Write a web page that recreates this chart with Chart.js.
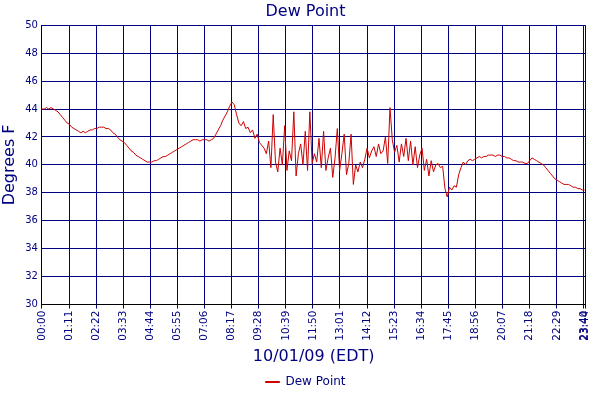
<!DOCTYPE html>
<html><head><meta charset="utf-8">
<script src="https://cdn.jsdelivr.net/npm/chart.js@4"></script>
<style>html,body{margin:0;padding:0;background:#fff}#w{width:600px;height:400px}</style>
</head><body><div id="w"><canvas id="c"></canvas></div>
<script>
const stepMinutes = 6;
const dewPoint = [
44.0,44.0,44.1,44.0,44.1,44.0,43.9,43.8,43.6,43.4,
43.2,43.0,42.9,42.7,42.6,42.5,42.4,42.3,42.4,42.3,
42.4,42.5,42.5,42.6,42.6,42.7,42.7,42.7,42.6,42.6,
42.5,42.3,42.2,42.0,41.8,41.7,41.6,41.4,41.2,41.0,
40.9,40.7,40.6,40.5,40.4,40.3,40.2,40.2,40.2,40.3,
40.3,40.4,40.5,40.6,40.6,40.7,40.8,40.9,41.0,41.1,
41.2,41.3,41.4,41.5,41.6,41.7,41.8,41.8,41.8,41.7,
41.8,41.8,41.8,41.7,41.8,41.9,42.2,42.5,42.8,43.2,
43.5,43.8,44.2,44.5,44.3,43.6,43.0,42.8,43.1,42.6,
42.7,42.3,42.5,41.9,42.2,41.6,41.4,41.2,40.8,41.7,
39.8,43.6,40.2,39.5,41.2,40.0,42.8,39.6,41.0,40.3,
43.8,39.2,40.8,41.5,40.0,42.4,39.6,43.8,40.1,40.8,
40.2,41.9,39.8,42.4,39.6,40.5,41.2,39.1,40.5,42.6,
39.6,40.8,42.2,39.3,40.1,42.2,38.6,40.0,39.5,40.2,
39.8,40.4,41.2,40.5,41.0,41.3,40.6,41.5,40.8,41.0,
42.0,40.1,44.1,41.8,40.9,41.4,40.2,41.5,40.6,41.9,
40.3,41.7,40.0,41.3,39.8,40.7,41.2,39.6,40.4,39.2,
40.3,39.5,40.0,40.1,39.8,39.9,38.3,37.7,38.4,38.2,
38.5,38.4,39.3,39.8,40.2,40.0,40.3,40.4,40.3,40.4,
40.5,40.6,40.5,40.6,40.6,40.7,40.7,40.7,40.6,40.7,
40.7,40.6,40.6,40.5,40.5,40.4,40.3,40.3,40.2,40.2,
40.2,40.1,40.1,40.3,40.5,40.4,40.3,40.2,40.1,40.0,
39.8,39.6,39.4,39.2,39.0,38.9,38.8,38.7,38.6,38.6,
38.6,38.5,38.4,38.4,38.3,38.3,38.2,38.2
];
const xTickMinutes = [0,71,142,213,284,355,426,497,568,639,710,781,852,923,994,1065,1136,1207,1278,1349,1420,1424];
const xMax = 1424;
const points = dewPoint.map((v,i)=>({x:i*stepMinutes,y:v}));
const navy = '#000080';
const fmt = m => String(Math.floor(m/60)).padStart(2,'0')+':'+String(m%60).padStart(2,'0');
new Chart(document.getElementById('c'),{
  type:'line',
  data:{datasets:[{label:'Dew Point',data:points,borderColor:'#cc0000',backgroundColor:'#cc0000',borderWidth:1,pointRadius:0,tension:0}]},
  options:{
    responsive:true,maintainAspectRatio:false,animation:false,devicePixelRatio:1,
    layout:{padding:{top:0,right:-11,left:0,bottom:2}},
    plugins:{
      title:{display:true,text:'Dew Point',color:navy,font:{family:'DejaVu Sans',size:16,weight:'normal'},padding:{top:2,bottom:4}},
      legend:{position:'bottom',labels:{color:navy,font:{family:'DejaVu Sans',size:12},boxWidth:14,boxHeight:1,padding:6}},
      tooltip:{enabled:false}
    },
    scales:{
      x:{type:'linear',min:0,max:xMax,
        afterBuildTicks:s=>{s.ticks=xTickMinutes.map(v=>({value:v}));},
        ticks:{color:navy,font:{family:'DejaVu Sans',size:10.5},maxRotation:90,minRotation:90,autoSkip:false,callback:v=>fmt(v),padding:2},
        grid:{color:navy,lineWidth:1,tickLength:4},border:{color:'#000',width:1},
        title:{display:true,text:'10/01/09 (EDT)',color:navy,font:{family:'DejaVu Sans',size:16},padding:{top:4,bottom:4}}},
      y:{min:30,max:50,
        ticks:{stepSize:2,color:navy,font:{family:'DejaVu Sans',size:10},padding:4},
        grid:{color:navy,lineWidth:1,tickLength:0},border:{color:'#000',width:1},
        title:{display:true,text:'Degrees F',color:navy,font:{family:'DejaVu Sans',size:16},padding:{top:0,bottom:2}}}
    }
  }
});
</script></body></html>
